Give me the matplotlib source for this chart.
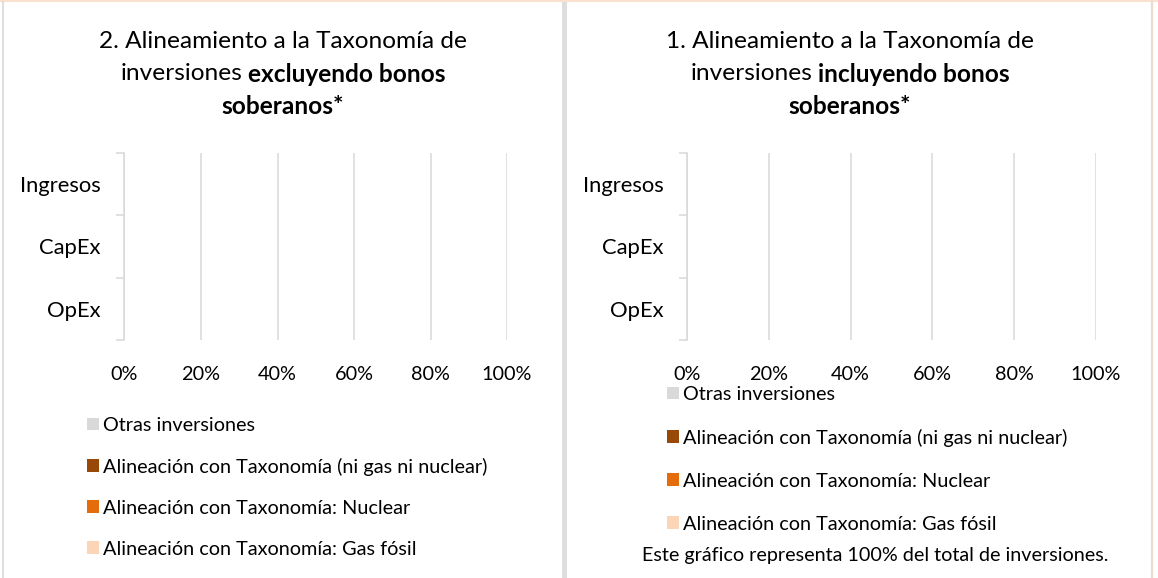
import matplotlib
matplotlib.use("Agg")
import matplotlib.pyplot as plt
import numpy as np
from matplotlib.lines import Line2D
from matplotlib.patches import Rectangle

plt.rcParams['font.family'] = ['Lato', 'DejaVu Sans']

# datos (todos los valores son 0 en el grafico original)
categorias = ['Ingresos', 'CapEx', 'OpEx']
series = ['Otras inversiones',
          'Alineación con Taxonomía (ni gas ni nuclear)',
          'Alineación con Taxonomía: Nuclear',
          'Alineación con Taxonomía: Gas fósil']
colores = ['#d9d9d9', '#984807', '#e46c0a', '#fbd5b5']
valores_excl = [[0, 0, 0], [0, 0, 0], [0, 0, 0], [0, 0, 0]]
valores_incl = [[0, 0, 0], [0, 0, 0], [0, 0, 0], [0, 0, 0]]
ticks_x = [0, 0.2, 0.4, 0.6, 0.8, 1.0]
etiquetas_x = ['0%', '20%', '40%', '60%', '80%', '100%']
nota = 'Este gráfico representa 100% del total de inversiones.'

W, H = 1158, 578
fig = plt.figure(figsize=(W / 100, H / 100), dpi=100)
GRIS = '#d9d9d9'
FS_LEY = 14.3


def px(x, y):
    return x / W, 1 - y / H


def panel(rect, valores):
    ax = fig.add_axes(rect)
    y = np.arange(len(categorias))
    izq = np.zeros(len(categorias))
    barras = []
    for nombre, col, v in zip(series, colores, valores):
        b = ax.barh(y, v, left=izq, height=0.6, color=col, linewidth=0, label=nombre)
        izq = izq + np.array(v)
        barras.append(b)
    ax.set_xlim(0, 1)
    ax.set_ylim(-0.5, 2.5)
    ax.invert_yaxis()
    ax.set_xticks(ticks_x)
    ax.set_xticklabels(etiquetas_x)
    ax.set_yticks(y)
    ax.set_yticklabels(categorias)
    ax.set_yticks([-0.5, 0.5, 1.5, 2.5], minor=True)
    ax.tick_params(axis='y', which='major', length=0, pad=17, labelsize=15.8)
    ax.tick_params(axis='y', which='minor', length=5.8, width=1.1, color=GRIS)
    ax.tick_params(axis='x', length=0, pad=18.5, labelsize=14.3)
    ax.grid(axis='x', color=GRIS, linewidth=1.1)
    ax.set_axisbelow(True)
    for s in ['top', 'right', 'bottom']:
        ax.spines[s].set_visible(False)
    ax.spines['left'].set_color(GRIS)
    ax.spines['left'].set_linewidth(1.1)
    return ax, barras


ax1, b1 = panel([124.5 / W, 1 - 340 / H, 382.5 / W, 187 / H], valores_excl)
ax2, b2 = panel([687 / W, 1 - 340 / H, 409 / W, 187 / H], valores_incl)

ax1.legend(handles=b1, loc='upper left', bbox_to_anchor=px(87, 417), bbox_transform=fig.transFigure,
           frameon=False, fontsize=FS_LEY, handlelength=0.62, handleheight=0.62,
           handletextpad=0.2, labelspacing=1.2, borderpad=0, borderaxespad=0)
ax2.legend(handles=b2, loc='upper left', bbox_to_anchor=px(667, 386), bbox_transform=fig.transFigure,
           frameon=False, fontsize=FS_LEY, handlelength=0.62, handleheight=0.62,
           handletextpad=0.2, labelspacing=1.3, borderpad=0, borderaxespad=0)

fig.text(*px(875, 555), nota, fontsize=14.2, ha='center', va='center')

# titulos con parte en negrita
renderer = fig.canvas.get_renderer()


def ancho(t):
    return t.get_window_extent(renderer).width


def linea(xc, yc, partes, size=17.6):
    objs = [fig.text(0, 1 - yc / H, s, fontsize=size, fontweight=w, ha='left', va='center')
            for s, w in partes]
    a = fig.text(0, 0, 'x x', fontsize=size)
    b = fig.text(0, 0, 'xx', fontsize=size)
    esp = ancho(a) - ancho(b)
    a.remove()
    b.remove()
    anchos = [ancho(o) for o in objs]
    total = sum(anchos) + esp * (len(objs) - 1)
    x = xc - total / 2
    for o, w in zip(objs, anchos):
        o.set_x(x / W)
        x += w + esp


for xc, num, palabra in [(283, '2.', 'excluyendo'), (850, '1.', 'incluyendo')]:
    linea(xc, 42, [(num + ' Alineamiento a la Taxonomía de', 'normal')])
    linea(xc, 74, [('inversiones', 'normal'), (palabra + ' bonos', 'bold')])
    linea(xc, 106, [('soberanos*', 'bold')])

# marcos de los paneles
fig.add_artist(Line2D([0, 1], [1 - 1 / H] * 2, color='#f9e0cf', linewidth=1.6))
fig.add_artist(Line2D([3 / W] * 2, [0, 1 - 2 / H], color=GRIS, linewidth=1.2))
fig.add_artist(Rectangle(px(562, 578), 5 / W, 576 / H, color='#dedede', linewidth=0))
fig.add_artist(Line2D([1152 / W] * 2, [0, 1 - 2 / H], color='#eedbd0', linewidth=1.6))

fig.savefig('out.png', dpi=100)
